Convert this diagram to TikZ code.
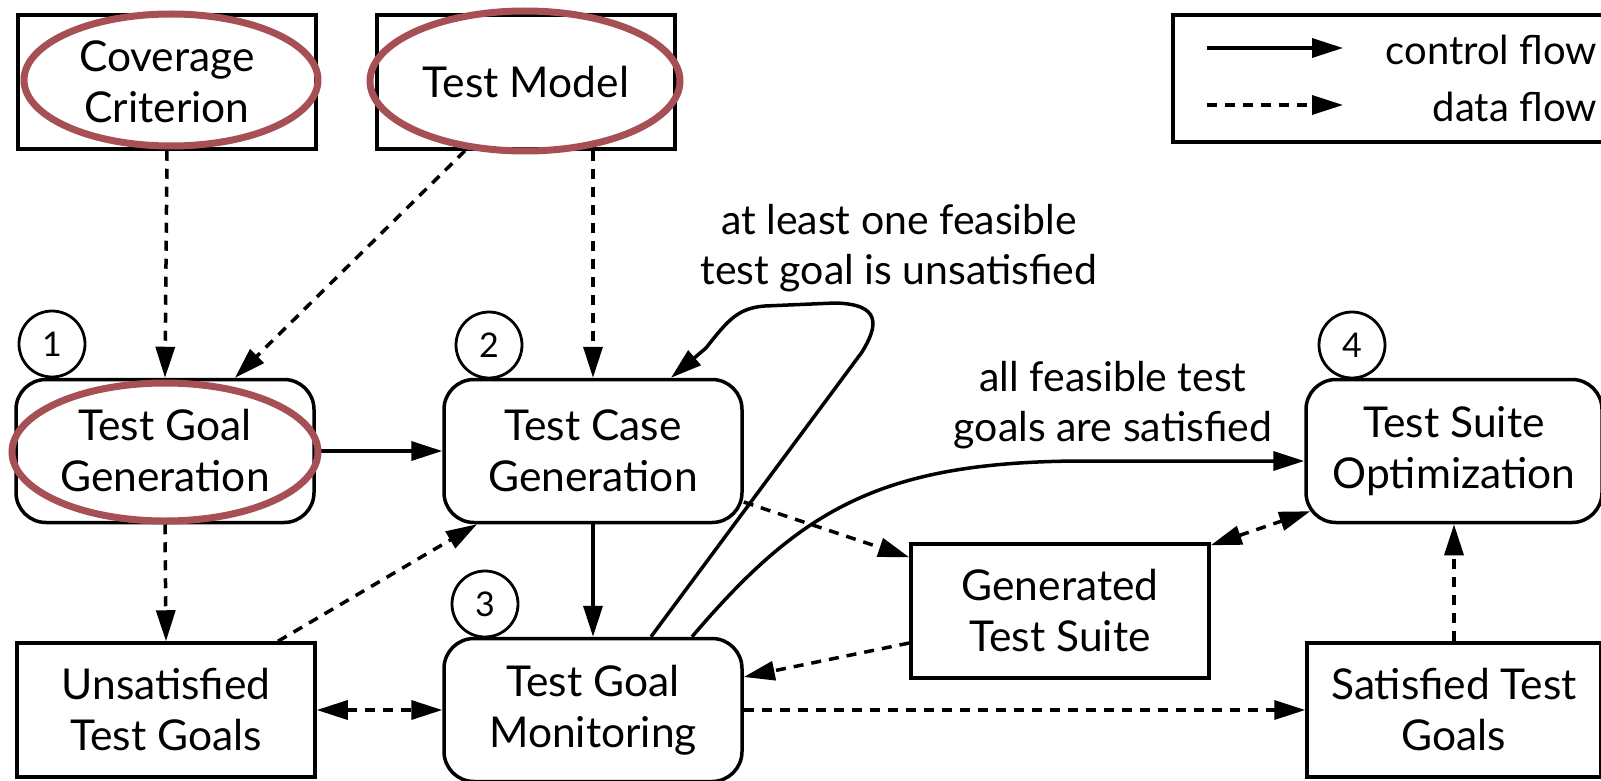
\documentclass[tikz,border=0pt]{standalone}
\usepackage{fontspec}
\setmainfont{Lato}
\usetikzlibrary{arrows.meta}
\definecolor{markred}{RGB}{166,80,86}
\begin{document}
\begin{tikzpicture}[x=1pt,y=-1pt,
  every node/.style={font=\fontsize{40}{51}\selectfont},
  box/.style={draw, line width=3.5pt, minimum width=298pt, minimum height=134pt,
              align=center, inner sep=0pt, font=\fontsize{42.5}{51}\selectfont},
  proc/.style={box, rounded corners=30pt, minimum height=143pt},
  num/.style={draw, circle, line width=2.8pt, minimum size=66pt, inner sep=0pt,
              font=\fontsize{34}{40}\selectfont},
  ctrl/.style={line width=3.5pt, -{Triangle[length=31pt,width=19pt]}},
  data/.style={ctrl, dash pattern=on 10pt off 8pt},
  bidata/.style={data, {Triangle[length=31pt,width=19pt]}-{Triangle[length=31pt,width=19pt]}},
  redring/.style={draw=markred, line width=7pt},
  lbl/.style={align=center, inner sep=0pt, font=\fontsize{41}{50}\selectfont}
]
\useasboundingbox (0,0) rectangle (1601,781);

% inputs
\node[box] (cov) at (167,82) {Coverage\\Criterion};
\node[box] (tm)  at (526,82) {Test Model};

% process steps
\node[proc] (tgg) at (165,451) {Test Goal\\Generation};
\node[proc] (tcg) at (593,451) {Test Case\\Generation};
\node[proc] (tgm) at (593,710) {Test Goal\\Monitoring};
\node[proc, minimum width=296pt] (tso) at (1454,451) {Test Suite\\Optimization};

% data stores
\node[box] (unsat) at (166,710) {Unsatisfied\\Test Goals};
\node[box] (gts)   at (1060,611) {Generated\\Test Suite};
\node[box, minimum width=294pt] (sat) at (1454,710) {Satisfied Test\\Goals};

% step numbers
\node[num] (n1) at (52,344)  {1};
\node[num] (n2) at (489,345) {2};
\node[num] (n3) at (485,604) {3};
\node[num] (n4) at (1352,345) {4};

% data flow
\draw[data] (cov.south) -- (tgg.north);
\draw[data] ([xshift=-61pt]tm.south) -- ([xshift=70pt]tgg.north);
\draw[data] ([xshift=67pt]tm.south) -- (tcg.north);
\draw[data] (tgg.south) -- (unsat.north);
\draw[data] ([xshift=112pt]unsat.north) -- ([xshift=-116pt]tcg.south);
\draw[bidata] (unsat.east) -- (tgm.west);
\draw[data] ([yshift=-51pt]tcg.east) -- ([yshift=-15pt]gts.north west);
\draw[data] ([yshift=-32pt]gts.west) -- ([yshift=33pt]tgm.east);
\draw[bidata] ([yshift=-3pt]gts.north east) -- ([shift={(6pt,13pt)}]tso.south west);
\draw[data] (sat.north) -- (tso.south);
\draw[data] (tgm.east) -- (sat.west);

% control flow
\draw[ctrl] (tgg.east) -- (tcg.west);
\draw[ctrl] (tcg.south) -- (tgm.north);
\draw[ctrl] ([xshift=58pt]tgm.north) -- (862,352)
  .. controls (878,326) and (882,304) .. (835,303)
  -- (765,306)
  .. controls (738,308) and (728,320) .. (706,348)
  -- ([xshift=78pt]tcg.north);
\draw[ctrl] ([xshift=99pt]tgm.north)
  .. controls (800,510) and (880,462) .. (1080,461)
  -- ([yshift=-10pt]tso.west);

% edge labels
\node[lbl] (l1) at (899,248) {at least one feasible\\test goal is unsatisfied};
\node[lbl] (l2) at (1113,405) {all feasible test\\goals are satisfied};

% legend
\draw[line width=3.5pt] (1601,15) -| (1173,142) -- (1601,142);
\coordinate (ca) at (1207,48);
\coordinate (cb) at (1343,48);
\coordinate (da) at (1207,105);
\coordinate (db) at (1343,105);
\draw[ctrl] (ca) -- (cb);
\draw[data] (da) -- (db);
\node[anchor=base east, inner sep=0pt] (lc) at (1597,65) {control flow};
\node[anchor=base east, inner sep=0pt] (ld) at (1597,122) {data flow};

% highlight rings
\draw[redring] (171,80) ellipse [x radius=147, y radius=66];
\draw[redring] (525,81) ellipse [x radius=155, y radius=70];
\draw[redring] (165,452) ellipse [x radius=153, y radius=69];
\end{tikzpicture}
\end{document}
